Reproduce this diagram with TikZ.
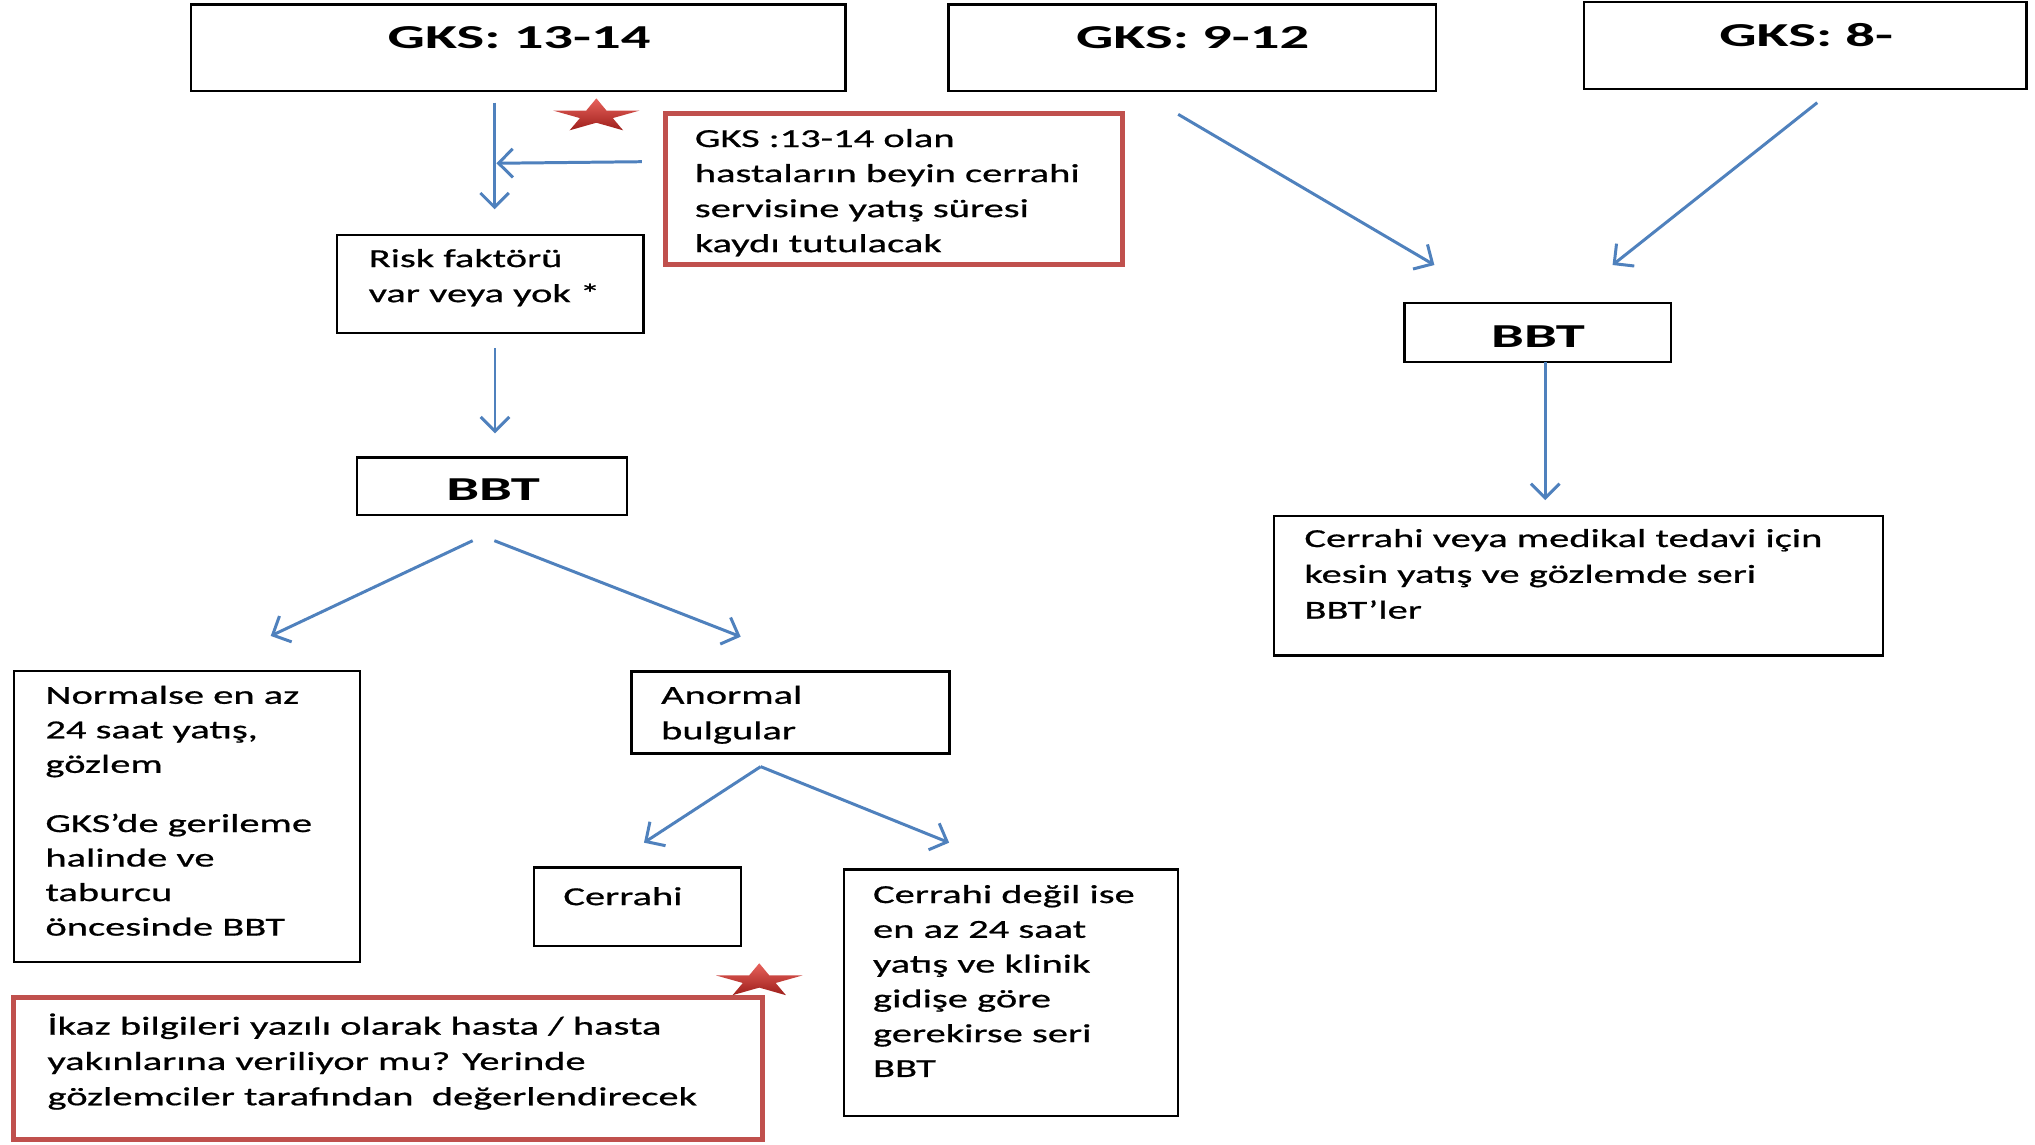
\documentclass[tikz,border=0pt]{standalone}
\usepackage{fontspec}
\setmainfont{Carlito}[FakeStretch=1.56, FakeBold=0.7]
\newfontfamily\hdfont{Carlito}[FakeStretch=1.75]
\usetikzlibrary{arrows.meta,fit}
\definecolor{arrowblue}{HTML}{4F81BD}
\definecolor{boxred}{HTML}{C0504D}
\definecolor{starlight}{HTML}{E8625C}
\definecolor{stardark}{HTML}{9E1F1B}
\begin{document}
\begin{tikzpicture}[x=0.5pt,y=-0.5pt,
  box/.style={draw=black, line width=0.9pt, inner sep=0pt},
  redbox/.style={draw=boxred, line width=1.95pt, inner sep=0pt},
  txt/.style={anchor=north west, inner sep=0pt, align=left, text=black,
    font=\fontsize{10}{13.4}\selectfont,
    execute at begin node={\rule{0pt}{8.5pt}}},
  hd/.style={anchor=base, inner sep=0pt, text=black,
    font=\hdfont\bfseries\fontsize{12.9}{15}\selectfont},
  arr/.style={draw=arrowblue, line width=1.15pt,
    -{Straight Barb[length=5.5pt,width=11pt]}},
  redstar/.pic={
    \shade[top color=starlight, bottom color=stardark, xscale=35, yscale=13.6]
      (-90:1) -- (-54:0.38) -- (-18:1) -- (18:0.38) -- (54:1) -- (90:0.38)
      -- (126:1) -- (162:0.38) -- (198:1) -- (234:0.38) -- cycle;
  }]
\useasboundingbox (0,0) rectangle (1568,881.5);
\fill[white] (0,0) rectangle (1568,881.5);

% top GKS boxes
\node[box, fit={(147,3.6) (651.4,70.1)}] (g1box) {};
\node[hd] (g1) at (400,37.5) {GKS: 13-14};
\node[box, fit={(730.8,3.6) (1106.2,70.1)}] (g2box) {};
\node[hd] (g2) at (919,37.5) {GKS: 9-12};
\node[box, fit={(1220.6,1.3) (1561.4,68.8)}] (g3box) {};
\node[hd] (g3) at (1391.7,35.5) {GKS: 8-};

% red note 1
\node[redbox, fit={(512.8,87.5) (865.2,203.5)}] (note1) {};
\node[txt, font=\fontsize{10}{13.5}\selectfont] (note1txt) at (535,99)
  {GKS :13-14 olan\\hastaların beyin cerrahi\\servisine yatış süresi\\kaydı tutulacak};

% left column
\node[box, fit={(259.9,181.1) (495.7,256.8)}] (riskbox) {};
\node[txt, font=\fontsize{10}{13.5}\selectfont] (risk) at (283.7,191.5) {Risk faktörü\\var veya yok *};

\node[box, fit={(275.3,352.4) (482.9,396.8)}] (bbt1box) {};
\node[hd] (bbt1) at (379.9,385.8) {BBT};

\node[box, fit={(11,517) (277.2,741)}] (normbox) {};
\node[txt, font=\fontsize{10}{13.3}\selectfont] (norm) at (34.6,528)
  {Normalse en az\\24 saat yatış,\\gözlem\\[9.5pt]GKS’de gerileme\\halinde ve\\taburcu\\öncesinde BBT};

\node[box, fit={(486.6,517.5) (731.5,580.5)}] (anorbox) {};
\node[txt, font=\fontsize{10}{13.7}\selectfont] (anor) at (509,528) {Anormal\\bulgular};

\node[box, fit={(411.6,668.3) (570.8,728.9)}] (cerrbox) {};
\node[txt] (cerr) at (433.7,680) {Cerrahi};

\node[box, fit={(650.2,669.9) (907.6,859.9)}] (degilbox) {};
\node[txt] (degil) at (672.3,681.5)
  {Cerrahi değil ise\\en az 24 saat\\yatış ve klinik\\gidişe göre\\gerekirse seri\\BBT};

\node[redbox, fit={(10.6,768.6) (587.3,877.8)}] (note2) {};
\node[txt, font=\fontsize{10}{13.6}\selectfont] (note2txt) at (36.2,780.5)
  {İkaz bilgileri yazılı olarak hasta / hasta\\yakınlarına veriliyor mu? Yerinde\\gözlemciler tarafından\ \ değerlendirecek};

% right column
\node[box, fit={(1082.3,233.7) (1287.4,278.7)}] (bbt2box) {};
\node[hd] (bbt2) at (1185,267.6) {BBT};

\node[box, fit={(981.7,397.4) (1451,505.2)}] (medbox) {};
\node[txt, font=\fontsize{10}{13.8}\selectfont] (med) at (1004.7,407.2)
  {Cerrahi veya medikal tedavi için\\kesin yatış ve gözlemde seri\\BBT’ler};

% connector end points
\coordinate (a1s) at (381.1,79.1);   \coordinate (a1e) at (381.1,161.3);
\coordinate (a2s) at (494.6,124.6);  \coordinate (a2e) at (382.5,125.8);
\coordinate (a3s) at (381.4,268.4);  \coordinate (a3e) at (381.4,333.9);
\coordinate (a4s) at (364.2,416.6);  \coordinate (a4e) at (208.6,490);
\coordinate (a5s) at (380.9,416.6);  \coordinate (a5e) at (570.7,490.6);
\coordinate (a6s) at (586.1,590.7);  \coordinate (a6e) at (496.2,649.3);
\coordinate (a7e) at (731.3,649.3);
\coordinate (a8s) at (907.8,88.1);   \coordinate (a8e) at (1105.2,204.2);
\coordinate (a9s) at (1400.2,79.1);  \coordinate (a9e) at (1242.5,204.2);
\coordinate (a10s) at (1190.6,278.7); \coordinate (a10e) at (1190.6,385.3);

\draw[arr] (a1s) -- (a1e);
\draw[arr] (a2s) -- (a2e);
\draw[arr] (a3s) -- (a3e);
\draw[arr] (a4s) -- (a4e);
\draw[arr] (a5s) -- (a5e);
\draw[arr] (a6s) -- (a6e);
\draw[arr] (a6s) -- (a7e);
\draw[arr] (a8s) -- (a8e);
\draw[arr] (a9s) -- (a9e);
\draw[arr] (a10s) -- (a10e);

% stars
\pic at (459.5,89.4) {redstar};
\pic at (585,755.8) {redstar};
\end{tikzpicture}
\end{document}
